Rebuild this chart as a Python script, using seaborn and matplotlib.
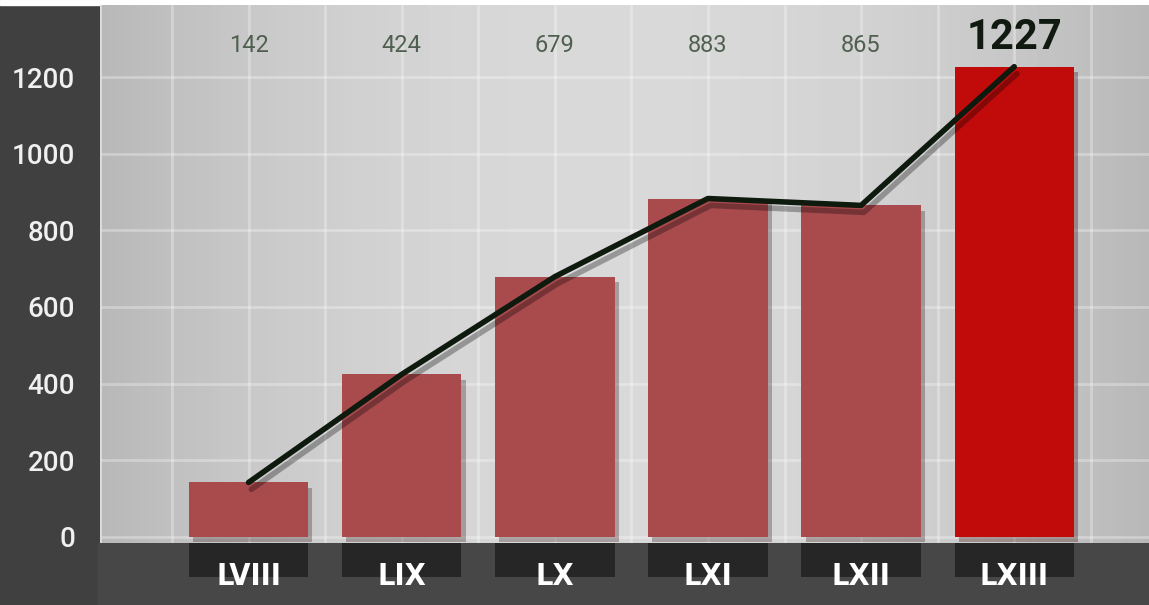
import numpy as np
import seaborn as sns
import matplotlib
matplotlib.use('Agg')
import matplotlib.pyplot as plt
import matplotlib.patheffects as pe
from matplotlib.patches import Rectangle

legislaturas = ["LVIII", "LIX", "LX", "LXI", "LXII", "LXIII"]
valores = [142, 424, 679, 883, 865, 1227]
cores = ["#a94a4d", "#a94a4d", "#a94a4d", "#a94a4d", "#a94a4d", "#c10b0b"]
yticks = [0, 200, 400, 600, 800, 1000, 1200]

sns.set_style("white")
plt.rcParams['font.family'] = ['Roboto', 'DejaVu Sans']

XMIN, XMAX = -0.97, 5.88

fig = plt.figure(figsize=(11.49, 6.05), dpi=100)
fig.patch.set_facecolor("#404040")
# tira branca no topo
fig.add_artist(Rectangle((0, 600 / 605), 1, 5 / 605, transform=fig.transFigure,
                         color="white", zorder=-5))
# faixa de baixo um pouco mais clara
fig.add_artist(Rectangle((98 / 1149, 0), 1, 62 / 605, transform=fig.transFigure,
                         color="#474747", zorder=-5))

# eixo de trás só para os blocos escuros sob os rótulos
ax_b = fig.add_axes([100 / 1149, 0, 1049 / 1149, 62 / 605], zorder=-1)
ax_b.set_xlim(XMIN, XMAX)
ax_b.set_ylim(0, 62)
ax_b.axis('off')
ax_b.bar(range(len(legislaturas)), 34, bottom=28, width=0.78, color="#262626",
         edgecolor="none")

ax = fig.add_axes([100 / 1149, 62 / 605, 1049 / 1149, 538 / 605])

# fundo cinza com degradê (mais claro no meio)
xx = np.linspace(-1, 1, 300)
grad = 0.85 - 0.13 * xx ** 2
grad = np.tile(grad, (50, 1))
ax.imshow(grad, extent=(XMIN, XMAX, -16, 1388), aspect='auto', cmap='gray',
          vmin=0, vmax=1, zorder=0)

sns.barplot(x=legislaturas, y=valores, hue=legislaturas, palette=cores,
            legend=False, width=0.78, ax=ax, zorder=3, saturation=1,
            edgecolor="none")
for b in ax.patches:
    b.set_path_effects([pe.SimplePatchShadow(offset=(3, -4), alpha=0.3), pe.Normal()])

ax.plot(range(len(valores)), valores, color="#0f1a0f", lw=4, zorder=5,
        solid_capstyle='round',
        path_effects=[pe.SimpleLineShadow(offset=(2, -5), alpha=0.3, rho=0.2), pe.Normal()])

for i, v in enumerate(valores):
    if i == len(valores) - 1:
        ax.text(i, 1250, str(v), ha='center', va='bottom', fontsize=30,
                fontweight='bold', color="#111a11", zorder=6)
    else:
        ax.text(i, 1283, str(v), ha='center', va='center', fontsize=17,
                color="#506050", zorder=6)

ax.set_xlim(XMIN, XMAX)
ax.set_ylim(-16, 1388)
ax.set_yticks(yticks)
ax.set_xticks(range(len(legislaturas)))
ax.set_xticks(np.arange(-0.5, 6, 1), minor=True)
ax.set_xticklabels(legislaturas, fontsize=22, fontweight='bold', color="white",
                   family=['DejaVu Sans'], fontstretch='condensed')
ax.tick_params(axis='x', which='both', length=0, pad=14)
ax.tick_params(axis='y', length=0, pad=18, labelsize=20, labelcolor="#f0f0f0")
for lab in ax.get_yticklabels():
    lab.set_fontweight('medium')
ax.grid(True, which='both', color="white", lw=2, alpha=0.3, zorder=1)
ax.set_axisbelow(True)
for s in ax.spines.values():
    s.set_visible(False)
ax.axvline(XMIN, color="#dddddd", lw=2, zorder=2)
ax.set_xlabel("")
ax.set_ylabel("")

fig.savefig("out.png", dpi=100, facecolor=fig.get_facecolor())
